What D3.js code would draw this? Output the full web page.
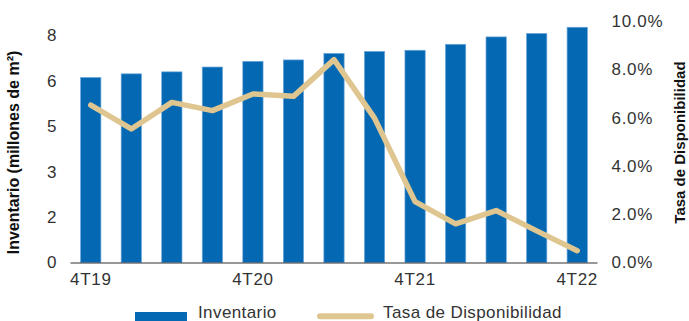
<!DOCTYPE html>
<html>
<head>
<meta charset="utf-8">
<script src="https://cdn.jsdelivr.net/npm/d3@7"></script>
<style>
  html, body { margin: 0; padding: 0; background: #fff; }
  svg { display: block; font-family: "Liberation Sans", Arial, Helvetica, sans-serif; }
</style>
</head>
<body>
<svg id="chart" width="689" height="321"></svg>
<script>
// Quarterly inventory (millions of m²) and availability rate
const quarters = ["4T19","1T20","2T20","3T20","4T20","1T21","2T21","3T21","4T21","1T22","2T22","3T22","4T22"];
const inventario = [6.51, 6.64, 6.71, 6.88, 7.08, 7.13, 7.36, 7.43, 7.47, 7.68, 7.94, 8.06, 8.28];
const tasaDisponibilidad = [0.0652, 0.0553, 0.0663, 0.0629, 0.0698, 0.0688, 0.0840, 0.0598, 0.0252, 0.0160, 0.0215, 0.0131, 0.0049];
const xTickLabels = ["4T19","4T20","4T21","4T22"];
const leftTicks = [0, 1.6, 3.2, 4.8, 6.4, 8.0];
const rightTicks = [0, 0.02, 0.04, 0.06, 0.08, 0.10];

const BLUE = "#0468b2";
const TAN = "#dfc690";
const TEXT = "#333333";

const svg = d3.select("#chart");

const x = d3.scaleBand()
  .domain(quarters)
  .range([70.5, 597.5])
  .paddingInner(0.5)
  .paddingOuter(0.25);

const yL = d3.scaleLinear().domain([0, 8.5]).range([262.5, 21]);
const yR = d3.scaleLinear().domain([0, 0.10]).range([262.5, 21]);

// Bars
svg.append("g")
  .selectAll("rect")
  .data(quarters)
  .join("rect")
  .attr("x", d => x(d))
  .attr("width", x.bandwidth())
  .attr("y", (d, i) => yL(inventario[i]))
  .attr("height", (d, i) => yL(0) - yL(inventario[i]))
  .attr("fill", BLUE)
  .attr("stroke", "#6aa6dc")
  .attr("stroke-width", 0.7);

// Availability line
const line = d3.line()
  .x((d, i) => x(quarters[i]) + x.bandwidth() / 2)
  .y(d => yR(d));

svg.append("path")
  .datum(tasaDisponibilidad)
  .attr("d", line)
  .attr("fill", "none")
  .attr("stroke", TAN)
  .attr("stroke-width", 5.5)
  .attr("stroke-linecap", "round")
  .attr("stroke-linejoin", "round");

// Bottom axis
const xAxis = d3.axisBottom(x)
  .tickValues(xTickLabels)
  .tickSize(0)
  .tickPadding(10)
  .tickSizeOuter(0);

const gx = svg.append("g")
  .attr("transform", `translate(0,${yL(0)})`)
  .call(xAxis);
gx.select(".domain").attr("stroke", "#333").attr("stroke-width", 1.2)
  .attr("d", `M70.5,0.5H597.5`);
gx.selectAll("text")
  .attr("font-size", "17px")
  .attr("letter-spacing", "0.7px")
  .attr("fill", TEXT)
  .attr("font-family", "Liberation Sans, Arial, sans-serif");

// Left axis
const gl = svg.append("g")
  .attr("transform", "translate(70.5,0)")
  .call(d3.axisLeft(yL).tickValues(leftTicks).tickFormat(d3.format(".0f")).tickSize(0).tickPadding(14));
gl.select(".domain").remove();
gl.selectAll("text")
  .attr("font-size", "17px")
  .attr("fill", TEXT)
  .attr("font-family", "Liberation Sans, Arial, sans-serif");

// Right axis
const gr = svg.append("g")
  .attr("transform", "translate(597.5,0)")
  .call(d3.axisRight(yR).tickValues(rightTicks).tickFormat(d3.format(".1%")).tickSize(0).tickPadding(14));
gr.select(".domain").remove();
gr.selectAll("text")
  .attr("font-size", "17px")
  .attr("letter-spacing", "0.7px")
  .attr("fill", TEXT)
  .attr("font-family", "Liberation Sans, Arial, sans-serif");

// Axis titles
svg.append("text")
  .attr("transform", "translate(13.5,152.5) rotate(-90)")
  .attr("text-anchor", "middle")
  .attr("dominant-baseline", "central")
  .attr("font-size", "16px")
  .attr("font-weight", "bold")
  .attr("fill", "#111")
  .text("Inventario (millones de m²)");

svg.append("text")
  .attr("transform", "translate(679,142.5) rotate(-90)")
  .attr("text-anchor", "middle")
  .attr("dominant-baseline", "central")
  .attr("font-size", "15px")
  .attr("font-weight", "bold")
  .attr("fill", "#111")
  .text("Tasa de Disponibilidad");

// Legend
const legend = svg.append("g");
legend.append("rect")
  .attr("x", 135).attr("y", 312).attr("width", 52).attr("height", 10)
  .attr("fill", BLUE);
legend.append("text")
  .attr("x", 198).attr("y", 317.5)
  .attr("font-size", "17px")
  .attr("letter-spacing", "0.4px")
  .attr("fill", TEXT)
  .text("Inventario");
legend.append("line")
  .attr("x1", 320).attr("x2", 371).attr("y1", 316.3).attr("y2", 316.3)
  .attr("stroke", TAN).attr("stroke-width", 6).attr("stroke-linecap", "round");
legend.append("text")
  .attr("x", 383).attr("y", 317.5)
  .attr("font-size", "17px")
  .attr("letter-spacing", "0.4px")
  .attr("fill", TEXT)
  .text("Tasa de Disponibilidad");
</script>
</body>
</html>
